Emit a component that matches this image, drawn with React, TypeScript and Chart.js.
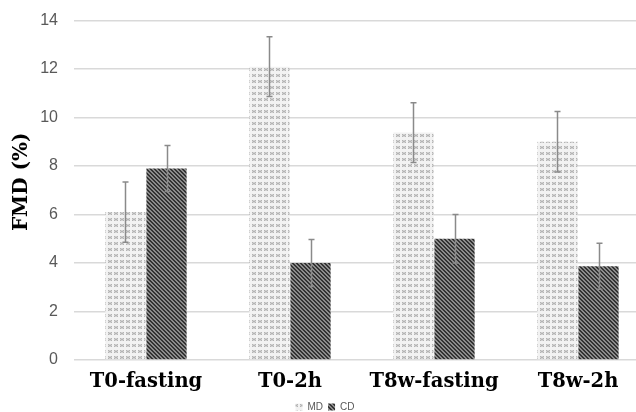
import React, { useEffect, useRef } from "react";
import { Chart, registerables } from "chart.js";

Chart.register(...registerables);

const categories = ["T0-fasting", "T0-2h", "T8w-fasting", "T8w-2h"];
const seriesNames = ["MD", "CD"];
const mdValues = [6.1, 12.1, 9.38, 9.0];
const cdValues = [7.9, 4.0, 5.0, 3.87];
const mdErrors = [1.24, 1.23, 1.23, 1.25];
const cdErrors = [0.95, 0.97, 1.0, 0.95];
const yTicks = [0, 2, 4, 6, 8, 10, 12, 14];
const yTitle = "FMD (%)";

const CANVAS_W = 650;
const CANVAS_H = 427;
const SHIFT = -5;

function makeMdPattern(): CanvasPattern | string {
  const c = document.createElement("canvas");
  c.width = 6;
  c.height = 6;
  const g = c.getContext("2d");
  if (!g) return "#dcdcdc";
  g.fillStyle = "#f2f2f2";
  g.fillRect(0, 0, 6, 6);
  g.fillStyle = "#d2d2d2";
  g.fillRect(0, 1, 4, 3);
  g.fillStyle = "#b4b4b4";
  g.fillRect(1, 2, 2, 1);
  g.fillRect(0, 1, 1, 1);
  g.fillRect(3, 1, 1, 1);
  g.fillRect(0, 3, 1, 1);
  g.fillRect(3, 3, 1, 1);
  const p = g.createPattern(c, "repeat");
  return p || "#dcdcdc";
}

function makeCdPattern(): CanvasPattern | string {
  const c = document.createElement("canvas");
  c.width = 4;
  c.height = 4;
  const g = c.getContext("2d");
  if (!g) return "#555555";
  g.fillStyle = "#8c8c8c";
  g.fillRect(0, 0, 4, 4);
  g.fillStyle = "#333333";
  for (let y = 0; y < 4; y++) {
    for (let x = 0; x < 4; x++) {
      const d = (x - y + 8) % 4;
      if (d === 0 || d === 1) g.fillRect(x, y, 1, 1);
    }
  }
  const p = g.createPattern(c, "repeat");
  return p || "#555555";
}

const errorBarPlugin = {
  id: "errorBars",
  afterDatasetsDraw(chart: any) {
    const ctx = chart.ctx;
    const yScale = chart.scales.y;
    const errs = [mdErrors, cdErrors];
    const vals = [mdValues, cdValues];
    ctx.save();
    ctx.strokeStyle = "#8a8a8a";
    ctx.lineWidth = 1.5;
    chart.data.datasets.forEach((_ds: any, di: number) => {
      const meta = chart.getDatasetMeta(di);
      meta.data.forEach((el: any, i: number) => {
        const v = vals[di][i];
        const e = errs[di][i];
        const x = Math.round(el.x) + 0.5;
        const yt = yScale.getPixelForValue(v + e);
        const yb = yScale.getPixelForValue(v - e);
        ctx.beginPath();
        ctx.moveTo(x, yt);
        ctx.lineTo(x, yb);
        ctx.moveTo(x - 3, yt);
        ctx.lineTo(x + 3, yt);
        ctx.moveTo(x - 3, yb);
        ctx.lineTo(x + 3, yb);
        ctx.stroke();
      });
    });
    ctx.restore();
  },
};

const yTitlePlugin = {
  id: "yTitle",
  afterDraw(chart: any) {
    const ctx = chart.ctx;
    const area = chart.chartArea;
    ctx.save();
    ctx.translate(22, area.top + (area.bottom - area.top) * 0.475);
    ctx.rotate(-Math.PI / 2);
    ctx.fillStyle = "#000000";
    ctx.font = "bold 20px 'DejaVu Serif', serif";
    ctx.textAlign = "center";
    ctx.textBaseline = "middle";
    ctx.fillText(yTitle, 0, 0);
    ctx.restore();
  },
};

export default function App() {
  const ref = useRef<HTMLCanvasElement | null>(null);
  useEffect(() => {
    if (!ref.current) return;
    const md = makeMdPattern();
    const cd = makeCdPattern();
    const chart = new Chart(ref.current, {
      type: "bar",
      data: {
        labels: categories,
        datasets: [
          {
            label: seriesNames[0],
            data: mdValues,
            backgroundColor: md as any,
            borderWidth: 0,
            categoryPercentage: 0.57,
            barPercentage: 0.98,
          },
          {
            label: seriesNames[1],
            data: cdValues,
            backgroundColor: cd as any,
            borderWidth: 0,
            categoryPercentage: 0.57,
            barPercentage: 0.98,
          },
        ],
      },
      options: {
        animation: false,
        responsive: false,
        maintainAspectRatio: false,
        layout: { padding: { top: 0, left: 0, right: 0, bottom: 0 } },
        plugins: {
          tooltip: { enabled: false },
          legend: {
            position: "bottom",
            labels: {
              boxWidth: 7,
              boxHeight: 7,
              padding: 5,
              color: "#595959",
              font: { family: "Liberation Sans, Arial", size: 10 },
            },
          },
        },
        scales: {
          x: {
            grid: { display: false, drawTicks: false },
            border: { display: false },
            afterFit: (axis: any) => {
              axis.height = 37;
            },
            ticks: {
              color: "#000000",
              padding: 10,
              font: { family: "DejaVu Serif, serif", size: 19.5, weight: "bold" },
            },
          },
          y: {
            min: 0,
            max: 14,
            afterBuildTicks: (axis: any) => {
              axis.ticks = yTicks.map((v) => ({ value: v }));
            },
            afterFit: (axis: any) => {
              axis.width = 74;
            },
            grid: { color: "#d9d9d9", lineWidth: 1.5, drawTicks: false },
            border: { display: false },
            ticks: {
              color: "#595959",
              padding: 16,
              font: { family: "Liberation Sans, Arial", size: 16 },
            },
          },
        },
      },
      plugins: [errorBarPlugin, yTitlePlugin],
    });
    return () => chart.destroy();
  }, []);
  return (
    <div
      style={{
        position: "fixed",
        left: 0,
        top: 0,
        width: 636,
        height: 412,
        overflow: "hidden",
        background: "#fff",
      }}
    >
      <canvas
        ref={ref}
        width={CANVAS_W}
        height={CANVAS_H}
        style={{ position: "absolute", left: 0, top: SHIFT, width: CANVAS_W, height: CANVAS_H }}
      />
    </div>
  );
}
